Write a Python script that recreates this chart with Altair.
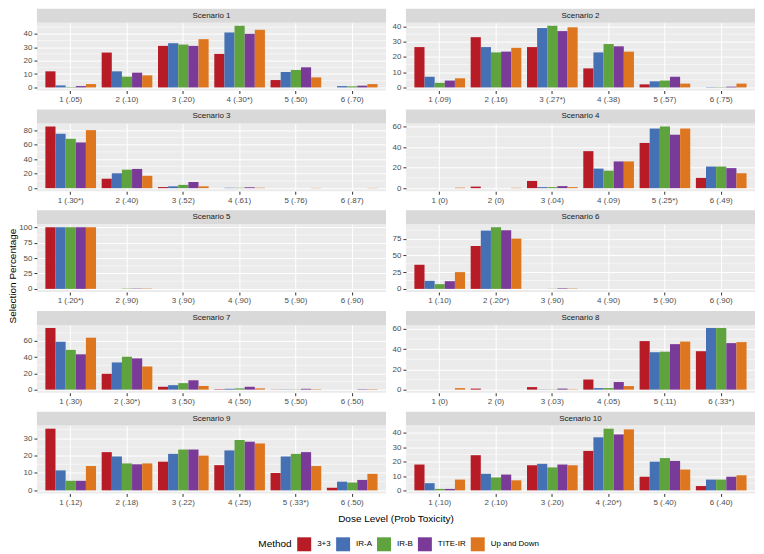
import altair as alt
import pandas as pd

methods = ["3+3", "IR-A", "IR-B", "TITE-IR", "Up and Down"]
colors = ["#B71C26", "#4570B4", "#5EA33E", "#7A3A97", "#DE7620"]

scenario_names = [f"Scenario {i}" for i in range(1, 11)]

dose_labels = [
    ["1 (.05)", "2 (.10)", "3 (.20)", "4 (.30*)", "5 (.50)", "6 (.70)"],
    ["1 (.09)", "2 (.16)", "3 (.27*)", "4 (.38)", "5 (.57)", "6 (.75)"],
    ["1 (.30*)", "2 (.40)", "3 (.52)", "4 (.61)", "5 (.76)", "6 (.87)"],
    ["1 (0)", "2 (0)", "3 (.04)", "4 (.09)", "5 (.25*)", "6 (.49)"],
    ["1 (.20*)", "2 (.90)", "3 (.90)", "4 (.90)", "5 (.90)", "6 (.90)"],
    ["1 (.10)", "2 (.20*)", "3 (.90)", "4 (.90)", "5 (.90)", "6 (.90)"],
    ["1 (.30)", "2 (.30*)", "3 (.50)", "4 (.50)", "5 (.50)", "6 (.50)"],
    ["1 (0)", "2 (0)", "3 (.03)", "4 (.05)", "5 (.11)", "6 (.33*)"],
    ["1 (.12)", "2 (.18)", "3 (.22)", "4 (.25)", "5 (.33*)", "6 (.50)"],
    ["1 (.10)", "2 (.10)", "3 (.20)", "4 (.20*)", "5 (.40)", "6 (.40)"],
]

# selection percentages: per scenario, per method, doses 1..6
s1 = {"3+3": [12, 26, 31, 25, 5.5, 0], "IR-A": [1.5, 12, 33, 41, 11.5, 1],
      "IR-B": [0.3, 8, 32, 46, 13, 0.8], "TITE-IR": [1, 11, 31, 40, 15, 1.3],
      "Up and Down": [2.5, 9, 36, 43, 7.5, 2.5]}
s2 = {"3+3": [26.5, 33, 26.5, 12.5, 2, 0], "IR-A": [7, 26.5, 39, 23, 4, 0.2],
      "IR-B": [3, 23, 40.5, 28.5, 4.5, 0.2], "TITE-IR": [4.5, 23.5, 37, 27, 7, 0.5],
      "Up and Down": [6, 26, 39.5, 23.5, 2.5, 2.5]}
s3 = {"3+3": [85, 13, 1.5, 0, 0, 0], "IR-A": [75, 20.5, 2.5, 0.5, 0, 0],
      "IR-B": [68, 25.5, 4.5, 0.5, 0, 0], "TITE-IR": [63, 26.5, 8.5, 1.2, 0, 0],
      "Up and Down": [80, 17, 2.5, 0.6, 0.3, 0.3]}
s4 = {"3+3": [0, 1.5, 7, 36, 44, 10], "IR-A": [0, 0, 1, 19, 58, 21],
      "IR-B": [0, 0, 1, 17, 60, 21], "TITE-IR": [0, 0, 2, 26, 52, 19.5],
      "Up and Down": [0.5, 0.3, 1, 26, 58, 14.5]}
s5 = {"3+3": [100, 0, 0, 0, 0, 0], "IR-A": [100, 0, 0, 0, 0, 0],
      "IR-B": [100, 0.5, 0, 0, 0, 0], "TITE-IR": [100, 0.5, 0, 0, 0, 0],
      "Up and Down": [100, 0.5, 0, 0, 0, 0]}
s6 = {"3+3": [36, 64, 0, 0, 0, 0], "IR-A": [12, 87, 0, 0, 0, 0],
      "IR-B": [7, 92, 0.2, 0, 0, 0], "TITE-IR": [11.5, 87.5, 0.8, 0, 0, 0],
      "Up and Down": [25, 75, 0.5, 0, 0, 0]}
s7 = {"3+3": [76, 19.5, 3.5, 0.5, 0.2, 0], "IR-A": [59, 33.5, 5.5, 1, 0.3, 0],
      "IR-B": [49, 40.5, 8, 1.5, 0.3, 0], "TITE-IR": [43.5, 38.5, 11.5, 3.5, 1, 0.5],
      "Up and Down": [64, 28.5, 4.5, 1.5, 0.5, 0.5]}
s8 = {"3+3": [0, 1, 2.5, 10, 48, 38], "IR-A": [0, 0, 0.2, 1.5, 37, 61],
      "IR-B": [0, 0, 0.2, 1.5, 37.5, 61], "TITE-IR": [0, 0, 1, 7.5, 45, 46],
      "Up and Down": [1.5, 0, 0.3, 3.5, 47.5, 47]}
s9 = {"3+3": [35.5, 22, 16.5, 14.5, 10, 1.5], "IR-A": [11.5, 19.5, 21, 23, 19.5, 5],
      "IR-B": [5.5, 15.5, 23.5, 29, 21, 4.5], "TITE-IR": [5.5, 15, 23.5, 28, 22, 6],
      "Up and Down": [14, 15.5, 20, 27, 14, 9.5]}
s10 = {"3+3": [18, 24.5, 17.5, 27.5, 9.5, 3], "IR-A": [5, 11.5, 18.5, 37, 20, 7.5],
       "IR-B": [1, 9, 16, 43, 22.5, 7.5], "TITE-IR": [1, 11, 18, 39, 20.5, 9.5],
       "Up and Down": [7.5, 7, 17.5, 42.5, 14.5, 10.5]}
scenario_values = [s1, s2, s3, s4, s5, s6, s7, s8, s9, s10]

y_ticks = [
    [0, 10, 20, 30, 40], [0, 10, 20, 30, 40], [0, 20, 40, 60, 80], [0, 20, 40, 60],
    [0, 25, 50, 75, 100], [0, 25, 50, 75], [0, 20, 40, 60], [0, 20, 40, 60],
    [0, 10, 20, 30], [0, 10, 20, 30, 40],
]

W = 350
H = 68
STRIP = 14
EXT = 19
FONT = "Liberation Sans"


def make_panel(i):
    rows = []
    for m in methods:
        for d, v in zip(dose_labels[i], scenario_values[i][m]):
            rows.append({"dose": d, "method": m, "pct": v})
    df = pd.DataFrame(rows)
    vmax = float(df["pct"].max())
    dom = [-0.05 * vmax, 1.05 * vmax]
    ticks = y_ticks[i]
    step = ticks[1] - ticks[0]
    minor = [t + step / 2 for t in ticks if dom[0] <= t + step / 2 <= dom[1]]
    yscale = alt.Scale(domain=dom, nice=False, zero=False)
    yaxis = alt.Axis(values=ticks, title=None, labelOverlap=False, grid=True)

    minor_df = pd.DataFrame({"m": minor})
    rules = alt.Chart(minor_df).mark_rule(color="white", strokeWidth=0.5).encode(
        y=alt.Y("m:Q", scale=yscale, title=None, axis=yaxis)
    )
    bars = alt.Chart(df).mark_bar().encode(
        x=alt.X("dose:N", sort=dose_labels[i],
                scale=alt.Scale(domain=dose_labels[i], paddingInner=0.1, paddingOuter=0.15),
                axis=alt.Axis(title=None, labelAngle=0, grid=True, bandPosition=0.5)),
        xOffset=alt.XOffset("method:N", sort=methods,
                            scale=alt.Scale(domain=methods, paddingInner=0, paddingOuter=0)),
        y=alt.Y("pct:Q", scale=yscale, title=None, axis=yaxis),
        y2=alt.datum(0),
        color=alt.Color("method:N", scale=alt.Scale(domain=methods, range=colors),
                        legend=alt.Legend(orient="none", legendX=251, legendY=516,
                                          direction="horizontal", title="Method",
                                          titleOrient="left", titleFontSize=10,
                                          titleFontWeight="normal", titleColor="black",
                                          titleBaseline="middle", titleAnchor="middle",
                                          titlePadding=5,
                                          symbolType="square", symbolSize=196,
                                          symbolStrokeWidth=0, symbolOpacity=1,
                                          labelFontSize=8, labelColor="black",
                                          labelOffset=6, columnPadding=5)),
    )
    sdf = pd.DataFrame({"name": [scenario_names[i]]})
    strip = alt.Chart(sdf).mark_rect(color="#D9D9D9").encode(
        x=alt.value(0), x2=alt.value(W), y=alt.value(-STRIP), y2=alt.value(0)
    )
    label = alt.Chart(sdf).mark_text(fontSize=8, color="#1A1A1A", baseline="middle",
                                     font=FONT).encode(
        x=alt.value(W / 2), y=alt.value(-STRIP / 2), text="name:N"
    )
    ext = alt.Chart(sdf).mark_rect(opacity=0).encode(
        x=alt.value(-EXT), x2=alt.value(0), y=alt.value(0), y2=alt.value(1)
    )
    return alt.layer(rules, bars, strip, label, ext).properties(
        width=W, height=H,
        view=alt.ViewBackground(fill="#EBEBEB", strokeWidth=0),
    )


panels = [make_panel(i) for i in range(10)]
grid = alt.concat(*panels, columns=2, spacing={"row": 6, "column": 0})

ytitle = alt.Chart(pd.DataFrame({"t": ["Selection Percentage"]})).mark_text(
    fontSize=10, angle=270, color="black", baseline="middle", font=FONT
).encode(x=alt.value(5), y=alt.value(254), text="t:N").properties(width=10, height=400)

xtitle = alt.Chart(pd.DataFrame({"t": ["Dose Level (Prob Toxicity)"]})).mark_text(
    fontSize=10, color="black", baseline="middle", font=FONT
).encode(x=alt.value(389), y=alt.value(5), text="t:N").properties(width=748, height=10)

chart = alt.vconcat(
    alt.hconcat(ytitle, grid, spacing=0),
    xtitle,
    spacing=8,
).properties(padding=0).configure(font=FONT).configure_view(strokeWidth=0).configure_axis(
    labelFontSize=8, labelColor="#4D4D4D", tickColor="#333333", tickSize=3,
    tickWidth=1, domain=False, gridColor="white", gridWidth=1, labelPadding=2,
    labelFont=FONT,
).configure_legend(padding=0, labelFont=FONT, titleFont=FONT)

chart.save("out.html", embed_options={"renderer": "svg", "actions": False})
